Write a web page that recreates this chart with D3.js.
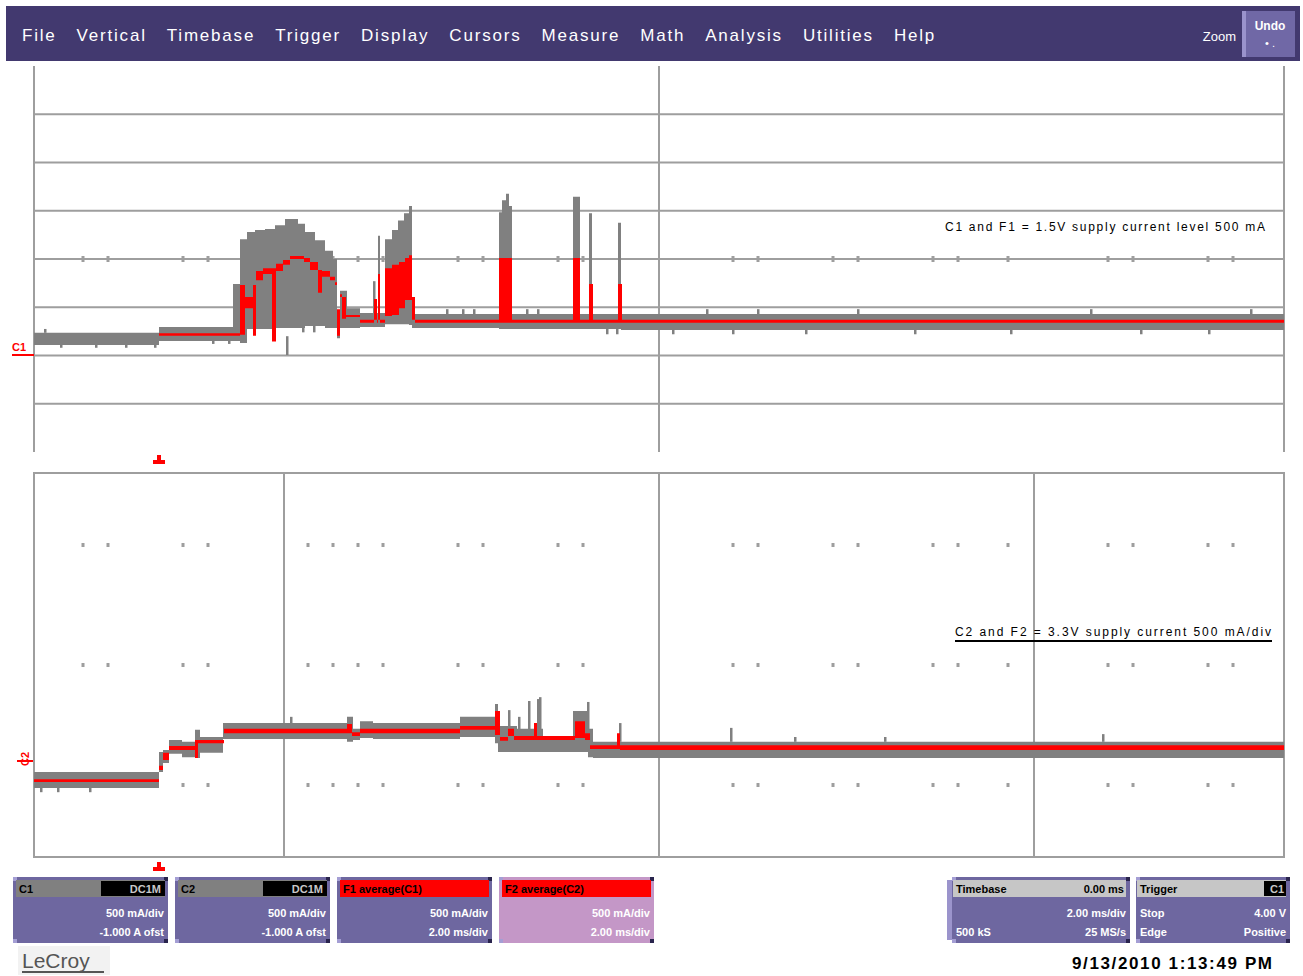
<!DOCTYPE html>
<html>
<head>
<meta charset="utf-8">
<script src="https://cdn.jsdelivr.net/npm/d3@7"></script>
<style>
body { margin: 0; background: #fff; }
text { font-family: 'Liberation Sans', Arial, sans-serif; }
</style>
</head>
<body>
<div class="chart"></div>
<script>
'use strict';

var menuItems = ['File', 'Vertical', 'Timebase', 'Trigger', 'Display', 'Cursors', 'Measure', 'Math', 'Analysis', 'Utilities', 'Help'];

// time in samples (0..1250), amplitude in mA (10 mA/div)
// each row: [t, low, high], held until the next row
var c1Env = [
  [0, -17.8, -15.3], [125, -17.0, -14.1], [199, -17.0, -5.2], [206, -17.4, 4.1],
  [213, -14.5, 5.6], [221, -14.5, 6.0], [231, -14.5, 6.2], [241, -14.3, 7.0],
  [251, -14.3, 8.3], [264, -14.3, 7.3], [271, -13.9, 5.6], [281, -13.9, 3.9],
  [291, -14.3, 1.7], [299, -14.3, 0.0], [303, -16.4, -10.6], [306, -14.3, -6.6],
  [313, -14.3, -10.2], [326, -14.1, -11.2], [344, -14.1, 4.8], [346, -14.1, -11.2],
  [351, -13.5, 4.1], [358, -13.5, 6.0], [364, -13.5, 8.0], [370, -13.5, 9.5],
  [375, -13.7, 11.0], [378, -14.3, -11.4], [465, -14.5, 9.7], [468, -14.5, 12.2],
  [472, -14.5, 13.5], [475, -14.5, 11.0], [478, -14.5, -11.4], [539, -14.5, 12.9],
  [546, -14.5, -11.4], [555, -14.5, 9.5], [558, -14.5, -11.4], [584, -14.5, 7.5],
  [587, -14.7, -11.4], [1250, -14.7, -11.4]
];
var c1Specks = [
  [10, -15.3, -14.5], [26, -18.4, -17.0], [61, -18.4, -17.0], [91, -18.4, -17.0],
  [120, -18.4, -17.0], [178, -17.6, -16.6], [194, -17.6, -16.6], [252, -19.9, -16.0],
  [268, -15.2, -13.5], [279, -15.2, -13.5], [339, -14.1, -4.6], [412, -11.6, -10.4],
  [428, -11.6, -10.4], [439, -11.6, -10.4], [492, -11.6, -10.4], [503, -11.6, -10.4],
  [572, -15.6, -14.5], [582, -15.6, -14.5], [638, -15.6, -14.5], [672, -11.6, -10.4],
  [698, -15.6, -14.5], [723, -11.6, -10.4], [771, -15.6, -14.5], [823, -11.6, -10.4],
  [880, -15.6, -14.5], [976, -15.6, -14.5], [1056, -11.6, -10.4], [1106, -15.6, -14.5],
  [1174, -15.6, -14.5], [1216, -11.6, -10.4]
];
var f1Band = [
  [125, -15.9, -15.4], [206, -15.7, -5.4], [211, -10.2, -7.9], [219, -15.9, -5.4],
  [222, -4.4, -2.5], [229, -3.1, -1.9], [238, -17.1, -1.9], [242, -2.5, -1.0],
  [249, -1.2, -0.2], [256, 0.0, 0.6], [270, -0.6, 0.2], [276, -2.3, -0.6],
  [284, -7.0, -2.3], [288, -3.7, -2.5], [296, -4.4, -3.7], [301, -5.4, -4.8],
  [303, -15.9, -10.4], [306, -7.9, -7.3], [308, -12.4, -7.9], [312, -12.0, -11.6],
  [326, -13.2, -12.6], [340, -12.6, -8.3], [343, -13.2, -12.6], [344, -12.6, -3.1],
  [346, -13.2, -12.6], [351, -11.8, -1.9], [358, -11.6, -1.2], [365, -10.2, -0.6],
  [371, -8.5, 0.2], [375, -8.5, 0.8], [378, -12.6, -7.9], [381, -13.2, -12.6],
  [465, -13.2, 0.2], [478, -13.2, -12.6], [539, -13.2, 0.2], [546, -13.2, -12.6],
  [555, -13.2, -5.2], [559, -13.2, -12.6], [584, -13.2, -5.2], [588, -13.2, -12.6],
  [1250, -13.2, -12.6]
];

var c2Env = [
  [0, -25.6, -22.3], [125, -22.3, -18.1], [129, -20.4, -17.7], [135, -18.5, -15.6],
  [148, -19.2, -16.0], [161, -19.4, -13.5], [166, -18.3, -15.0], [189, -15.4, -12.1],
  [313, -16.0, -10.8], [319, -15.6, -13.3], [326, -15.2, -11.7], [339, -15.4, -12.1],
  [426, -15.0, -10.8], [461, -16.3, -8.1], [464, -18.1, -12.7], [483, -18.1, -13.3],
  [509, -18.1, -14.8], [539, -18.1, -9.6], [554, -19.2, -13.3], [559, -19.4, -16.0],
  [1250, -19.4, -16.0]
];
var c2Specks = [
  [6, -26.5, -25.4], [23, -26.5, -25.4], [55, -26.5, -25.4], [256, -12.5, -10.8],
  [474, -13.5, -9.4], [484, -13.5, -10.8], [494, -14.0, -7.5], [503, -14.0, -7.1],
  [505, -14.0, -6.7], [553, -14.0, -7.7], [585, -16.0, -12.1], [696, -16.0, -13.1],
  [760, -16.0, -15.0], [850, -16.0, -15.0], [1068, -16.0, -14.4]
];
var f2Band = [
  [0, -24.4, -23.8], [125, -21.9, -21.0], [129, -19.8, -18.3], [135, -17.7, -16.9],
  [161, -19.4, -15.6], [164, -16.3, -15.6], [190, -14.2, -13.3], [313, -14.2, -12.3],
  [318, -14.8, -14.0], [326, -14.2, -13.3], [426, -13.5, -12.7], [461, -14.6, -9.6],
  [466, -15.8, -15.0], [474, -14.8, -13.3], [480, -15.6, -14.8], [500, -15.6, -12.1],
  [503, -15.6, -14.8], [541, -15.2, -11.7], [551, -15.6, -14.2], [556, -17.5, -16.7],
  [583, -17.5, -14.2], [586, -17.7, -16.7], [1250, -17.7, -16.7]
];

var gridTicks = [49, 74, 149, 174, 274, 299, 324, 349, 424, 449, 524, 549, 699, 724, 799, 824, 899, 924, 974, 1074, 1099, 1174, 1199];
var topDivs = [-30, -20, -10, 0, 10, 20, 30];
var topVLines = [0, 625, 1250];
var botVLines = [250, 625, 1000];
var botTickRows = [25, 0, -25];
var triggerT = 125;

var traceHeaders = ['C1', 'C2', 'F1  average(C1)', 'F2  average(C2)'];
var traceBadges = ['DC1M', 'DC1M', '', ''];
var traceScale = ['500 mA/div', '500 mA/div', '500 mA/div', '500 mA/div'];
var traceSecond = ['-1.000 A ofst', '-1.000 A ofst', '2.00 ms/div', '2.00 ms/div'];

var noteTop = 'C1 and F1 = 1.5V supply current level 500 mA';
var noteBot = 'C2 and F2 = 3.3V supply current 500 mA/div';

var gridColor = '#9e9e9e';
var traceGray = '#808080';
var red = '#ff0000';

var svg = d3.select('.chart').append('svg').attr('width', 1303).attr('height', 976);

var x = d3.scaleLinear().domain([0, 1250]).range([34, 1284]);
var yTop = d3.scaleLinear().domain([-40, 40]).range([452, 66]);
var yBot = d3.scaleLinear().domain([-40, 40]).range([857, 473]);

// menu bar
var menu = svg.append('g');
menu.append('rect').attr('x', 6).attr('y', 6).attr('width', 1294).attr('height', 55).attr('fill', '#42396f');
var mx = 22;
menuItems.forEach(function (m) {
  var t = menu.append('text').attr('x', mx).attr('y', 41).attr('fill', '#fff')
    .style('font-size', '17px').style('letter-spacing', '1.8px').text(m);
  mx += t.node().getComputedTextLength() + 20;
});
menu.append('text').attr('x', 1236).attr('y', 41).attr('text-anchor', 'end').attr('fill', '#fff')
  .style('font-size', '13px').text('Zoom');
menu.append('rect').attr('x', 1242).attr('y', 11).attr('width', 4).attr('height', 46).attr('fill', '#9a93cc');
menu.append('rect').attr('x', 1246).attr('y', 11).attr('width', 49).attr('height', 46).attr('fill', '#7068a6');
menu.append('text').attr('x', 1270).attr('y', 30).attr('text-anchor', 'middle').attr('fill', '#fff')
  .style('font-size', '12px').style('font-weight', 'bold').text('Undo');
menu.append('text').attr('x', 1270).attr('y', 47).attr('text-anchor', 'middle').attr('fill', '#fff')
  .style('font-size', '11px').text('• .');

// grids
var grid = svg.append('g').attr('stroke', gridColor).attr('stroke-width', 2);
grid.selectAll('line.th').data(topDivs).enter().append('line')
  .attr('x1', x(0)).attr('x2', x(1250)).attr('y1', yTop).attr('y2', yTop);
grid.selectAll('line.tv').data(topVLines).enter().append('line')
  .attr('x1', x).attr('x2', x).attr('y1', yTop(40)).attr('y2', yTop(-40));
grid.append('rect').attr('x', x(0)).attr('y', yBot(40)).attr('width', x(1250) - x(0))
  .attr('height', yBot(-40) - yBot(40)).attr('fill', 'none');
grid.selectAll('line.bv').data(botVLines).enter().append('line')
  .attr('x1', x).attr('x2', x).attr('y1', yBot(40)).attr('y2', yBot(-40));

var ticks = svg.append('g').attr('fill', gridColor);
ticks.selectAll('rect.tt').data(gridTicks).enter().append('rect')
  .attr('x', function (d) { return x(d) - 1.5; }).attr('y', yTop(0) - 3).attr('width', 3).attr('height', 6);
botTickRows.forEach(function (row) {
  ticks.selectAll(null).data(gridTicks).enter().append('rect')
    .attr('x', function (d) { return x(d) - 1.5; }).attr('y', yBot(row) - 2).attr('width', 3).attr('height', 4);
});

// traces
var band = function (y) {
  return d3.area().x(function (d) { return x(d[0]); })
    .y0(function (d) { return y(d[1]); }).y1(function (d) { return y(d[2]); })
    .curve(d3.curveStepAfter);
};
var specks = function (g, data, y, color) {
  g.selectAll(null).data(data).enter().append('rect')
    .attr('x', function (d) { return x(d[0]); }).attr('width', 2.5)
    .attr('y', function (d) { return y(d[2]); })
    .attr('height', function (d) { return y(d[1]) - y(d[2]); })
    .attr('fill', color);
};

var topG = svg.append('g');
topG.append('path').datum(c1Env).attr('d', band(yTop)).attr('fill', traceGray);
specks(topG, c1Specks, yTop, traceGray);
topG.append('path').datum(f1Band).attr('d', band(yTop)).attr('fill', red);

var botG = svg.append('g');
botG.append('path').datum(c2Env).attr('d', band(yBot)).attr('fill', traceGray);
specks(botG, c2Specks, yBot, traceGray);
botG.append('path').datum(f2Band).attr('d', band(yBot)).attr('fill', red);

// trace markers
svg.append('text').attr('x', 12).attr('y', 351).attr('fill', red)
  .style('font-size', '11px').style('font-weight', 'bold').text('C1');
svg.append('line').attr('x1', 12).attr('x2', 34).attr('y1', 355).attr('y2', 355).attr('stroke', red).attr('stroke-width', 2);
svg.append('text').attr('transform', 'translate(29,766) rotate(-90)').attr('fill', red)
  .style('font-size', '11px').style('font-weight', 'bold').text('C2');
svg.append('line').attr('x1', 17).attr('x2', 33).attr('y1', 761).attr('y2', 761).attr('stroke', red).attr('stroke-width', 2);

[461, 868].forEach(function (yy) {
  svg.append('rect').attr('x', x(triggerT) - 2).attr('y', yy - 6).attr('width', 4).attr('height', 5).attr('fill', red);
  svg.append('rect').attr('x', x(triggerT) - 6).attr('y', yy - 1).attr('width', 12).attr('height', 4).attr('fill', red);
});

// annotations
svg.append('text').attr('x', 945).attr('y', 231).attr('textLength', 320).attr('lengthAdjust', 'spacing')
  .style('font-size', '12px').attr('fill', '#000').text(noteTop);
svg.append('text').attr('x', 955).attr('y', 636).attr('textLength', 316).attr('lengthAdjust', 'spacing')
  .style('font-size', '12px').attr('fill', '#000').text(noteBot);
svg.append('line').attr('x1', 955).attr('x2', 1272).attr('y1', 641).attr('y2', 641).attr('stroke', '#000').attr('stroke-width', 2);

// info boxes
var boxFrame = function (bx, by, bw, bh, body) {
  var g = svg.append('g');
  g.append('rect').attr('x', bx).attr('y', by).attr('width', bw).attr('height', bh).attr('fill', body);
  g.append('rect').attr('x', bx).attr('y', by).attr('width', 4).attr('height', 4).attr('fill', '#a49ed4');
  g.append('rect').attr('x', bx).attr('y', by + bh - 4).attr('width', 4).attr('height', 4).attr('fill', '#a49ed4');
  g.append('rect').attr('x', bx + bw - 4).attr('y', by).attr('width', 4).attr('height', 4).attr('fill', '#29244d');
  g.append('rect').attr('x', bx + bw - 4).attr('y', by + bh - 4).attr('width', 4).attr('height', 4).attr('fill', '#29244d');
  return g;
};
var txt = function (g, tx, ty, s, anchor, color, bold) {
  return g.append('text').attr('x', tx).attr('y', ty).attr('text-anchor', anchor || 'start')
    .attr('fill', color || '#fff').style('font-size', '11px').style('font-weight', bold ? 'bold' : 'normal').text(s);
};

traceHeaders.forEach(function (h, i) {
  var bx = 13 + i * 162;
  var isMath = i >= 2;
  var g = boxFrame(bx, 877, 155, 66, i === 3 ? '#c497c7' : '#6e67a0');
  g.append('rect').attr('x', bx + 3).attr('y', 880).attr('width', 149).attr('height', 17).attr('fill', isMath ? red : '#808080');
  txt(g, bx + 6, 893, h, 'start', '#000', true);
  if (traceBadges[i]) {
    g.append('rect').attr('x', bx + 88).attr('y', 881).attr('width', 64).attr('height', 15).attr('fill', '#000');
    txt(g, bx + 148, 893, traceBadges[i], 'end', '#c8c8c8', true);
  }
  txt(g, bx + 151, 917, traceScale[i], 'end', '#fff', true);
  txt(g, bx + 151, 936, traceSecond[i], 'end', '#fff', true);
});

svg.append('rect').attr('x', 947).attr('y', 880).attr('width', 6).attr('height', 60).attr('fill', '#9b94cc');
var tb = boxFrame(952, 877, 178, 66, '#6e67a0');
tb.append('rect').attr('x', 953).attr('y', 880).attr('width', 173).attr('height', 17).attr('fill', '#c6c6c6');
txt(tb, 956, 893, 'Timebase', 'start', '#000', true);
txt(tb, 1124, 893, '0.00 ms', 'end', '#000', true);
txt(tb, 1126, 917, '2.00 ms/div', 'end', '#fff', true);
txt(tb, 956, 936, '500 kS', 'start', '#fff', true);
txt(tb, 1126, 936, '25 MS/s', 'end', '#fff', true);

var tr = boxFrame(1136, 877, 154, 66, '#6e67a0');
tr.append('rect').attr('x', 1137).attr('y', 880).attr('width', 149).attr('height', 17).attr('fill', '#c6c6c6');
txt(tr, 1140, 893, 'Trigger', 'start', '#000', true);
tr.append('rect').attr('x', 1264).attr('y', 881).attr('width', 22).attr('height', 15).attr('fill', '#000');
txt(tr, 1284, 893, 'C1', 'end', '#c8c8c8', true);
txt(tr, 1140, 917, 'Stop', 'start', '#fff', true);
txt(tr, 1286, 917, '4.00 V', 'end', '#fff', true);
txt(tr, 1140, 936, 'Edge', 'start', '#fff', true);
txt(tr, 1286, 936, 'Positive', 'end', '#fff', true);

// footer
svg.append('rect').attr('x', 18).attr('y', 946).attr('width', 92).attr('height', 29).attr('fill', '#f2f2f2');
svg.append('text').attr('x', 22).attr('y', 968).attr('fill', '#555').style('font-size', '21px').text('LeCroy');
svg.append('line').attr('x1', 22).attr('x2', 104).attr('y1', 972).attr('y2', 972).attr('stroke', '#555').attr('stroke-width', 2);
svg.append('text').attr('x', 1072).attr('y', 969).attr('textLength', 200).attr('lengthAdjust', 'spacing').attr('fill', '#000')
  .style('font-size', '17px').style('font-weight', 'bold').text('9/13/2010 1:13:49 PM');
</script>
</body>
</html>
